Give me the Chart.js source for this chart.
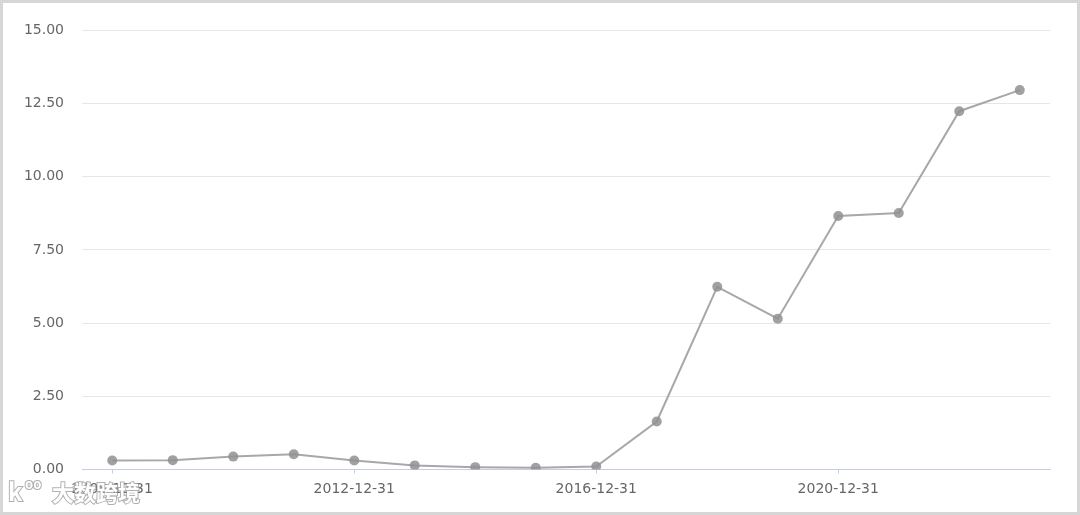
<!DOCTYPE html>
<html><head><meta charset="utf-8">
<script src="https://cdn.jsdelivr.net/npm/chart.js@4.4.0/dist/chart.umd.min.js"></script>
<style>
html,body{margin:0;padding:0;background:#fff;}
#wrap{position:relative;width:1080px;height:515px;box-sizing:border-box;border:3px solid #d6d6d6;}
#c{position:absolute;left:-3px;top:1px;}
</style></head>
<body><div id="wrap"><canvas id="c" width="1080" height="511"></canvas></div>
<script>
const categories = ["2008-12-31","2009-12-31","2010-12-31","2011-12-31","2012-12-31","2013-12-31","2014-12-31","2015-12-31","2016-12-31","2017-12-31","2018-12-31","2019-12-31","2020-12-31","2021-12-31","2022-12-31","2023-12-31"];
const values = [0.31,0.32,0.44,0.52,0.31,0.14,0.08,0.06,0.10,1.64,6.24,5.15,8.66,8.76,12.24,12.96];
const yTicks = [0,2.5,5,7.5,10,12.5,15];
const watermarkText = "大数跨境";

const watermark = {
  id:'watermark',
  afterDraw(chart){
    const ctx = chart.ctx;
    ctx.save();
    ctx.lineWidth = 2;
    ctx.strokeStyle = 'rgba(150,150,150,0.75)';
    ctx.fillStyle = '#ffffff';
    ctx.textBaseline = 'middle';
    ctx.font = 'bold 24px "Noto Sans CJK SC"';
    ctx.strokeText('k', 8, 488);
    ctx.fillText('k', 8, 488);
    ctx.font = 'bold 13px "Noto Sans CJK SC"';
    ctx.strokeText('oo', 25, 480);
    ctx.fillText('oo', 25, 480);
    ctx.font = 'bold 22px "Noto Sans CJK SC"';
    ctx.strokeText(watermarkText, 52, 489);
    ctx.fillText(watermarkText, 52, 489);
    ctx.restore();
  }
};

const axisFont = {family:'"DejaVu Sans", sans-serif', size:14};

new Chart(document.getElementById('c'), {
  type:'line',
  data:{labels:categories, datasets:[{
    data:values,
    borderColor:'#a8a8a8',
    borderWidth:2,
    pointRadius:5,
    pointHoverRadius:5,
    pointBackgroundColor:'rgba(145,145,145,0.85)',
    pointBorderColor:'rgba(145,145,145,0.85)',
    pointBorderWidth:0,
    tension:0
  }]},
  options:{
    responsive:false,
    animation:false,
    layout:{padding:{left:0,right:30,top:0,bottom:0}},
    plugins:{legend:{display:false},tooltip:{enabled:false}},
    scales:{
      x:{
        offset:true,
        afterFit(s){ s.height = 45.5; },
        grid:{offset:false,drawOnChartArea:false,drawTicks:true,tickLength:4,
          color:(c)=> (c.index % 4 === 0 ? '#c5cce6' : 'rgba(0,0,0,0)')},
        border:{color:'#c5cce6',width:1},
        ticks:{autoSkip:false,maxRotation:0,padding:7,color:'#666',font:axisFont,
          callback:function(v,i){ return i % 4 === 0 ? categories[i] : ''; }}
      },
      y:{
        min:0,max:15,
        afterFit(s){ s.width = 82; },
        afterBuildTicks(s){ s.ticks = yTicks.map(v=>({value:v})); },
        grid:{color:'#e6e6e6',drawTicks:false},
        border:{display:false},
        ticks:{padding:18,color:'#666',font:axisFont,
          callback:(v)=>Number(v).toFixed(2)}
      }
    }
  },
  plugins:[watermark]
});
</script></body></html>
